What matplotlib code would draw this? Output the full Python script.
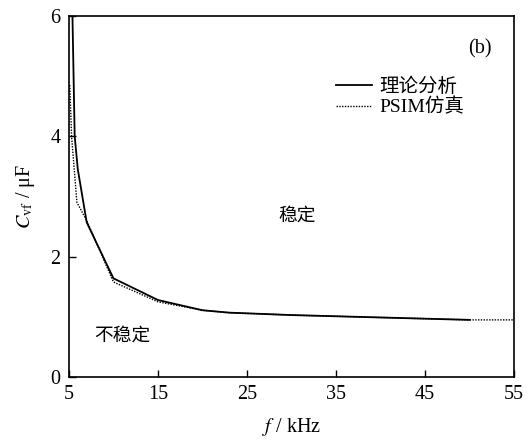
import matplotlib
matplotlib.use("Agg")
import matplotlib.pyplot as plt

plt.rcParams['font.family'] = ['Liberation Serif', 'Noto Sans CJK SC']
plt.rcParams['mathtext.fontset'] = 'stix'

# theory curve
f_theory = [5.4, 5.65, 6.0, 7, 10, 15, 20, 23, 30, 40, 50]
c_theory = [6.0, 4.0, 3.45, 2.57, 1.64, 1.28, 1.11, 1.07, 1.03, 0.99, 0.95]

# PSIM simulation
f_psim = [5.1, 5.3, 5.9, 7, 10, 15, 20, 23, 30, 40, 50, 55]
c_psim = [4.85, 4.0, 2.9, 2.6, 1.58, 1.25, 1.11, 1.07, 1.03, 0.99, 0.95, 0.95]

xticks = [5, 15, 25, 35, 45, 55]
yticks = [0, 2, 4, 6]

fig = plt.figure(figsize=(5.3, 4.4), dpi=100)
ax = fig.add_axes([0.130, 0.143, 0.840, 0.821])

ax.plot(f_theory, c_theory, color='black', lw=1.3, label='理论分析')
ax.plot(f_psim, c_psim, color='black', lw=1.0, linestyle=(0, (1, 1)), label='PSIM仿真')

ax.set_xlim(5, 55)
ax.set_ylim(0, 6)
ax.set_xticks(xticks)
ax.set_yticks(yticks)
ax.tick_params(direction='in', length=5, width=1, labelsize=14.5, pad=6)
for s in ax.spines.values():
    s.set_linewidth(1.2)

ax.set_xlabel(r'$f$ / kHz', fontsize=14.5, labelpad=8)
ax.set_ylabel(r'$C_{\rm vf}$ / μF', fontsize=14.5, labelpad=10)

ax.text(51.2, 5.45, '(b)', fontsize=14.5, ha='center', va='center')
ax.text(30.6, 2.67, '稳定', fontsize=13.5, ha='center', va='center')
ax.text(11.0, 0.68, '不稳定', fontsize=13.5, ha='center', va='center')

ax.legend(loc='upper left', bbox_to_anchor=(0.583, 0.85), frameon=False,
          fontsize=14, handlelength=1.85, handletextpad=0.35,
          labelspacing=0.1, borderaxespad=0)

fig.savefig('out.png', dpi=100)
